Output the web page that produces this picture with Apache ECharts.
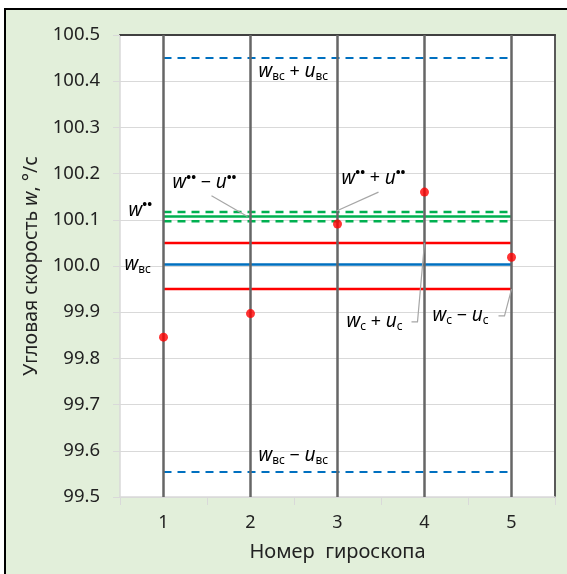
<!DOCTYPE html>
<html><head><meta charset="utf-8">
<script src="https://cdn.jsdelivr.net/npm/echarts@6/dist/echarts.min.js"></script>
<style>html,body{margin:0;padding:0;background:#fff}#c{width:567px;height:574px}</style>
</head><body><div id="c"></div>
<script>
const categories = ['1', '2', '3', '4', '5'];
const measured = [99.846, 99.897, 100.091, 100.160, 100.019];
const yTicks = [99.5, 100.5, 0.1];
const wbcPlusU = 100.45, wbcMinusU = 99.554;
const wssPlusU = 100.117, wss = 100.107, wssMinusU = 100.097;
const wcPlusU = 100.05, wbc = 100.003, wcMinusU = 99.95;

const FONT = '"Noto Sans", "Open Sans", sans-serif';
const TXT = '#222';
const rich = {
  i: { fontFamily: FONT, fontStyle: 'italic', fontSize: 19, color: TXT },
  n: { fontFamily: FONT, fontSize: 18, color: TXT },
  s: { fontFamily: FONT, fontSize: 12, color: TXT, padding: [10, 0, 0, 0] },
  p: { fontFamily: FONT, fontSize: 13, fontWeight: 'bold', color: TXT, padding: [0, 0, 9, 0] }
};
const level = v => categories.map(() => v);

const chart = echarts.init(document.getElementById('c'), null, { renderer: 'canvas' });
function hline(name, v, color, width, dashed) {
  return { name, type: 'line', data: level(v), symbol: 'none', silent: true, z: 3,
    lineStyle: { color, width, type: dashed ? [8, 6] : 'solid' } };
}
const option = {
  backgroundColor: '#fff',
  animation: false,
  grid: { left: 120, right: 12, top: 35, bottom: 77, show: true, backgroundColor: '#fff', borderWidth: 0, z: 0 },
  xAxis: [{
    type: 'category', data: categories, boundaryGap: true,
    axisLine: { lineStyle: { color: '#d9d9d9', width: 1.5 } },
    axisTick: { show: true, length: 8, lineStyle: { color: '#d9d9d9' } },
    axisLabel: { fontFamily: FONT, fontSize: 18, color: TXT, margin: 17 },
    splitLine: { show: false },
    name: 'Номер  гироскопа', nameLocation: 'middle', nameGap: 45,
    nameTextStyle: { fontFamily: FONT, fontSize: 20, color: TXT }
  }, {
    type: 'category', data: categories, position: 'top', boundaryGap: true,
    axisLine: { lineStyle: { color: '#404040', width: 2 } },
    axisTick: { show: false }, axisLabel: { show: false }
  }],
  yAxis: [{
    type: 'value', min: yTicks[0], max: yTicks[1], interval: yTicks[2],
    axisLine: { show: true, lineStyle: { color: '#d9d9d9', width: 1.5 } },
    axisTick: { show: true, length: 7, lineStyle: { color: '#d9d9d9' } },
    axisLabel: { fontFamily: FONT, fontSize: 18.5, color: TXT, margin: 20, formatter: v => v.toFixed(1) },
    splitLine: { lineStyle: { color: '#d9d9d9', width: 1.2 } },
    name: 'Угловая скорость {i|w}, °/c', nameLocation: 'middle', nameGap: 78,
    nameTextStyle: { fontFamily: FONT, fontSize: 19.5, color: TXT,
      rich: { i: { fontFamily: FONT, fontStyle: 'italic', fontSize: 19.5, color: TXT } } }
  }, {
    type: 'value', min: yTicks[0], max: yTicks[1], interval: yTicks[2], position: 'right',
    axisLine: { show: true, lineStyle: { color: '#595959', width: 2 } },
    axisTick: { show: false }, axisLabel: { show: false }, splitLine: { show: false }
  }],
  series: [
    { type: 'line', data: [], silent: true, z: 2,
      markLine: { symbol: 'none', silent: true, label: { show: false },
        lineStyle: { color: '#666', width: 2.5, type: 'solid' },
        data: categories.map(c => ({ xAxis: c })) } },
    hline('wbc+u', wbcPlusU, '#0070C0', 2, true),
    hline('wbc-u', wbcMinusU, '#0070C0', 2, true),
    hline('wss+u', wssPlusU, '#00B050', 2.5, true),
    hline('wss', wss, '#00B050', 2.5, false),
    hline('wss-u', wssMinusU, '#00B050', 2.5, true),
    hline('wc+u', wcPlusU, '#FF0000', 2.5, false),
    hline('wc-u', wcMinusU, '#FF0000', 2.5, false),
    hline('wbc', wbc, '#0070C0', 2.5, false),
    { name: 'measured', type: 'scatter', data: measured, symbol: 'circle', symbolSize: 9, z: 5,
      itemStyle: { color: '#FF0000' } }
  ]
};
chart.setOption(option);

// annotations: [text, category index, value, dx px]
const labels = [
  ['{i|w}{s|вс}{n| + }{i|u}{s|вс}', 1, 100.42, 8],
  ['{i|w}{s|вс}{n| − }{i|u}{s|вс}', 1, 99.589, 8],
  ['{i|w}{p|••}{n| − }{i|u}{p|••}', 0, 100.18, 9],
  ['{i|w}{p|••}', 0, 100.121, -35],
  ['{i|w}{s|вс}', 0, 100.002, -39],
  ['{i|w}{p|••}{n| + }{i|u}{p|••}', 2, 100.19, 4],
  ['{i|w}{s|с}{n| + }{i|u}{s|с}', 2, 99.879, 9],
  ['{i|w}{s|с}{n| − }{i|u}{s|с}', 3, 99.892, 8]
];
// leader lines: points as [category index, value, dx px]
const leaders = [
  [[0, 100.152, 48], [1, 100.107, -3]],
  [[2, 100.160, 41], [2, 100.119, -1]],
  [[3, 99.879, -13], [3, 99.879, -7], [3, 100.05, 0]],
  [[4, 99.892, -13], [4, 99.892, -7], [4, 99.95, 0]]
];
const P = (c, v, dx) => { const p = chart.convertToPixel({ gridIndex: 0 }, [c, v]); return [p[0] + dx, p[1]]; };
const graphics = [{
  type: 'rect', z: -100, silent: true,
  shape: { x: 5, y: 9, width: 600, height: 600 },
  style: { fill: '#E2EFDA', stroke: '#000', lineWidth: 2 }
}];
leaders.forEach(pts => {
  graphics.push({ type: 'polyline', z: 10, silent: true,
    shape: { points: pts.map(p => P(p[0], p[1], p[2])) },
    style: { stroke: '#a6a6a6', lineWidth: 1.2, fill: null } });
});
labels.forEach(l => {
  const p = P(l[1], l[2], l[3]);
  graphics.push({ type: 'text', z: 10, silent: true, x: p[0], y: p[1],
    style: { text: l[0], rich, align: 'left', verticalAlign: 'middle' } });
});
chart.setOption({ graphic: graphics });
</script></body></html>
